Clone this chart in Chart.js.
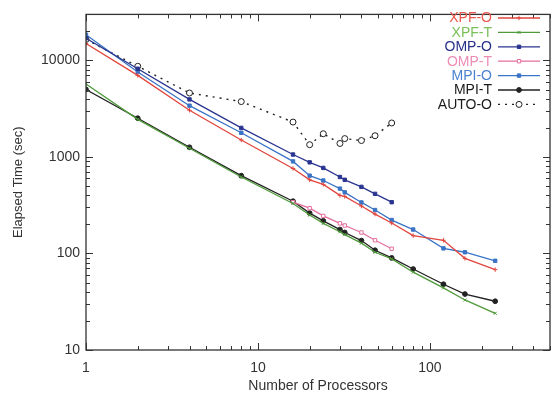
<!DOCTYPE html>
<html>
<head>
<meta charset="utf-8">
<script src="https://cdn.jsdelivr.net/npm/chart.js@4.4.0/dist/chart.umd.min.js"></script>
<style>
  html, body { margin: 0; padding: 0; background: #fff; }
  #wrap { width: 560px; height: 399px; }
</style>
</head>
<body>
<div id="wrap"><canvas id="chart" width="560" height="399"></canvas></div>
<script>
// processor counts
const procAll = [1, 2, 4, 8, 16, 20, 24, 30, 32, 40, 48, 60, 80, 120, 160, 240];
const procOmp = [1, 2, 4, 8, 16, 20, 24, 30, 32, 40, 48, 60];
const procOmpT = [16, 20, 24, 30, 32, 40, 48, 60];

// elapsed time (sec)
const xpfO  = [15000, 7000, 3050, 1500, 760, 580, 520, 400, 390, 310, 256, 207, 153, 137, 89, 68];
const xpfT  = [5700, 2450, 1230, 620, 330, 250, 205, 168, 157, 128, 103, 88, 64, 44, 33, 24];
const ompO  = [17000, 8200, 3950, 2000, 1060, 880, 770, 620, 580, 490, 415, 340];
const ompT  = [340, 295, 245, 205, 195, 165, 137, 112];
const mpiO  = [18500, 7600, 3400, 1780, 900, 640, 570, 470, 430, 338, 282, 222, 177, 113, 103, 84];
const mpiT  = [5000, 2520, 1260, 640, 348, 262, 218, 177, 165, 136, 108, 90, 69, 48, 38, 32];
const autoO = [16500, 8700, 4600, 3750, 2300, 1340, 1740, 1380, 1550, 1480, 1660, 2250];

const xTicks = [1, 10, 100];
const yTicks = [10, 100, 1000, 10000];

function pts(xs, ys) {
  return xs.map((x, i) => ({ x: x, y: ys[i] }));
}

function series(label, xs, ys, color, style, opts) {
  return Object.assign({
    label: label,
    data: pts(xs, ys),
    borderColor: color,
    backgroundColor: color,
    pointBorderColor: color,
    pointBackgroundColor: color,
    borderWidth: 1.3,
    pointStyle: style,
    pointRadius: 2.4,
    pointBorderWidth: 1,
    tension: 0
  }, opts || {});
}

const datasets = [
  series('XPF-O', procAll, xpfO, '#e2463e', 'cross', { pointRadius: 2.2, textColor: '#e8584c' }),
  series('XPF-T', procAll, xpfT, '#4f9a3a', 'crossRot', { pointRadius: 2.2, textColor: '#79c158' }),
  series('OMP-O', procOmp, ompO, '#2a3590', 'rect', { textColor: '#252f88' }),
  series('OMP-T', procOmpT, ompT, '#e46f9e', 'rect', { pointBackgroundColor: '#fff', textColor: '#ec8db5' }),
  series('MPI-O', procAll, mpiO, '#3a74c6', 'rect', { textColor: '#4a82cf' }),
  series('MPI-T', procAll, mpiT, '#222222', 'circle', { textColor: '#1a1a1a' }),
  series('AUTO-O', procOmp, autoO, '#222222', 'circle', {
    borderDash: [2, 5], borderWidth: 1.4, pointRadius: 3, pointBackgroundColor: '#fff', textColor: '#1a1a1a'
  })
];

// inward ticks on all four sides + frame
const frameTicks = {
  id: 'frameTicks',
  afterDraw(chart) {
    const ctx = chart.ctx;
    const a = chart.chartArea;
    const xs = chart.scales.x, ys = chart.scales.y;
    ctx.save();
    ctx.strokeStyle = '#333';
    ctx.lineWidth = 1;
    for (let d = 1; d <= 100; d *= 10) {
      for (let m = 1; m <= 9; m++) {
        const v = m * d;
        if (v > xs.max) break;
        const px = Math.round(xs.getPixelForValue(v)) + 0.5;
        const len = m === 1 ? 7 : 4;
        ctx.beginPath();
        ctx.moveTo(px, a.bottom); ctx.lineTo(px, a.bottom - len);
        ctx.moveTo(px, a.top); ctx.lineTo(px, a.top + len);
        ctx.stroke();
      }
    }
    for (let d = 10; d <= 10000; d *= 10) {
      for (let m = 1; m <= 9; m++) {
        const v = m * d;
        if (v > ys.max) break;
        const py = Math.round(ys.getPixelForValue(v)) + 0.5;
        const len = m === 1 ? 7 : 4;
        ctx.beginPath();
        ctx.moveTo(a.left, py); ctx.lineTo(a.left + len, py);
        ctx.moveTo(a.right, py); ctx.lineTo(a.right - len, py);
        ctx.stroke();
      }
    }
    ctx.lineWidth = 1.3;
    ctx.strokeRect(a.left, a.top, a.right - a.left, a.bottom - a.top);
    ctx.restore();
  }
};

// gnuplot-like key: label on the left, sample on the right
const gnuKey = {
  id: 'gnuKey',
  afterDraw(chart) {
    const ctx = chart.ctx;
    const textRight = 492, lineL = 498, lineR = 540, top = 18, step = 14.4;
    ctx.save();
    ctx.font = '14px "Liberation Sans", Arial, sans-serif';
    ctx.textAlign = 'right';
    ctx.textBaseline = 'middle';
    chart.data.datasets.forEach((ds, i) => {
      const y = top + i * step;
      ctx.fillStyle = ds.textColor;
      ctx.fillText(ds.label, textRight, y + 0.5);
      ctx.strokeStyle = ds.borderColor;
      ctx.lineWidth = ds.borderWidth;
      ctx.setLineDash(ds.borderDash || []);
      ctx.beginPath();
      ctx.moveTo(lineL, y); ctx.lineTo(lineR, y);
      ctx.stroke();
      ctx.setLineDash([]);
      ctx.fillStyle = ds.pointBackgroundColor;
      ctx.strokeStyle = ds.pointBorderColor;
      ctx.lineWidth = ds.pointBorderWidth;
      Chart.helpers.drawPoint(ctx, { pointStyle: ds.pointStyle, radius: ds.pointRadius, rotation: 0, borderWidth: ds.pointBorderWidth }, (lineL + lineR) / 2, y);
    });
    ctx.restore();
  }
};

const tickFont = { family: '"Liberation Sans", Arial, sans-serif', size: 14 };
const titleFont = { family: '"Liberation Sans", Arial, sans-serif', size: 14 };

new Chart(document.getElementById('chart'), {
  type: 'line',
  data: { datasets: datasets },
  options: {
    responsive: false,
    animation: false,
    layout: { padding: { top: 7, right: 2, left: 0, bottom: 0 } },
    plugins: { legend: { display: false }, tooltip: { enabled: false } },
    scales: {
      x: {
        type: 'logarithmic',
        min: 1,
        max: 500,
        grid: { display: false, drawTicks: false },
        border: { display: false },
        ticks: {
          autoSkip: false,
          maxRotation: 0,
          padding: 10,
          color: '#333',
          font: tickFont,
          callback: v => xTicks.includes(v) ? String(v) : ''
        },
        title: {
          display: true,
          text: 'Number of Processors',
          color: '#333',
          font: titleFont,
          padding: { top: 0, bottom: 4 }
        },
        afterFit: s => { s.height = 49; }
      },
      y: {
        type: 'logarithmic',
        min: 10,
        max: 30000,
        grid: { display: false, drawTicks: false },
        border: { display: false },
        ticks: {
          autoSkip: false,
          padding: 6,
          color: '#333',
          font: tickFont,
          callback: v => yTicks.includes(v) ? String(v) : ''
        },
        title: {
          display: true,
          text: 'Elapsed Time (sec)',
          color: '#333',
          font: { family: '"Liberation Sans", Arial, sans-serif', size: 13 },
          padding: { top: 11, bottom: 0 }
        },
        afterFit: s => { s.width = 86; }
      }
    }
  },
  plugins: [frameTicks, gnuKey]
});
</script>
</body>
</html>
